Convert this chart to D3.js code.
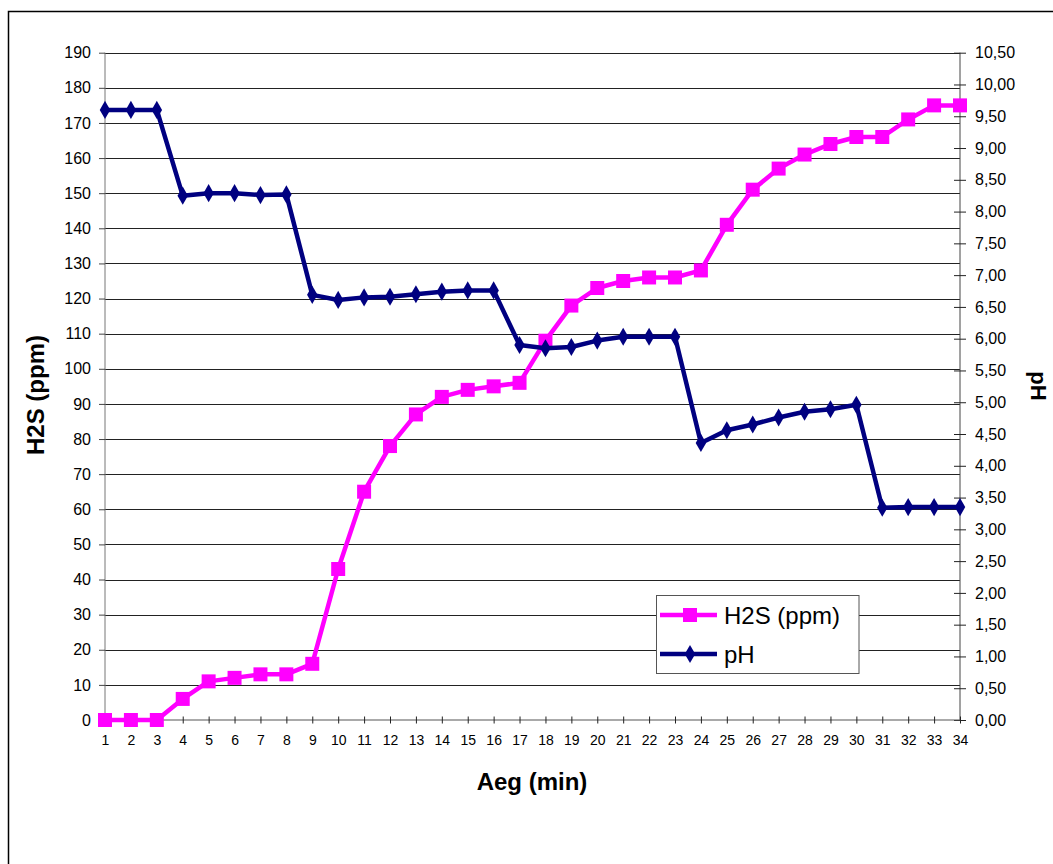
<!DOCTYPE html>
<html>
<head>
<meta charset="utf-8">
<script src="https://cdn.jsdelivr.net/npm/d3@7"></script>
<style>
  html, body { margin: 0; padding: 0; background: #fff; }
  svg { display: block; font-family: "Liberation Sans", Arial, sans-serif; }
</style>
</head>
<body>
<svg id="chart" width="1053" height="864"></svg>
<script>
const minutes = d3.range(1, 35);
const h2s = [0, 0, 0, 6, 11, 12, 13, 13, 16, 43, 65, 78, 87, 92, 94, 95, 96, 108, 118, 123,
             125, 126, 126, 128, 141, 151, 157, 161, 164, 166, 166, 171, 175, 175];
const ph = [9.60, 9.60, 9.60, 8.25, 8.29, 8.29, 8.26, 8.27, 6.69, 6.61, 6.65, 6.66, 6.70, 6.74,
            6.76, 6.76, 5.90, 5.85, 5.87, 5.97, 6.03, 6.03, 6.03, 4.36, 4.56, 4.65, 4.76, 4.85,
            4.89, 4.96, 3.34, 3.35, 3.35, 3.35];
const leftTicks = d3.range(0, 191, 10);
const rightTicks = d3.range(0, 10.51, 0.5);
const seriesNames = ["H2S (ppm)", "pH"];
const axisTitles = { x: "Aeg (min)", left: "H2S (ppm)", right: "pH" };

const svg = d3.select("#chart");
const L = 105, R = 960, T = 52.7, B = 720;
const x = d3.scaleLinear().domain([1, 34]).range([L, R]);
const yL = d3.scaleLinear().domain([0, 190]).range([B, T]);
const yR = d3.scaleLinear().domain([0, 10.5]).range([B, T]);
const magenta = "#FF00FF", navy = "#000080";

// outer frame
svg.append("rect").attr("x", 8.5).attr("y", 11.5).attr("width", 1100).attr("height", 900)
  .attr("fill", "none").attr("stroke", "#000").attr("stroke-width", 1.5);

// gridlines
svg.append("g").selectAll("line").data(leftTicks.filter(d => d > 0)).join("line")
  .attr("x1", L).attr("x2", R)
  .attr("y1", d => Math.round(yL(d)) + 0.5).attr("y2", d => Math.round(yL(d)) + 0.5)
  .attr("stroke", "#222").attr("stroke-width", 1);

// left axis
const leftAxis = d3.axisLeft(yL).tickValues(leftTicks).tickSize(6).tickPadding(8).tickFormat(d3.format("d"));
const gl = svg.append("g").attr("transform", `translate(${L},0)`).call(leftAxis);
gl.select(".domain").attr("stroke", "#777").attr("d", `M0,${B}V${T}`);
gl.selectAll(".tick line").attr("stroke", "#444");
gl.selectAll("text").attr("font-size", 16).attr("fill", "#000").attr("font-family", "Liberation Sans, Arial, sans-serif");

// right axis
const fmtComma = d => d3.format(".2f")(d).replace(".", ",");
const rightAxis = d3.axisRight(yR).tickValues(rightTicks).tickSize(6).tickPadding(9).tickFormat(fmtComma);
const gr = svg.append("g").attr("transform", `translate(${R},0)`).call(rightAxis);
gr.select(".domain").attr("stroke", "#444").attr("d", `M0,${B}V${T}`);
gr.selectAll(".tick line").attr("stroke", "#222").attr("x1", -6).attr("x2", 6);
gr.selectAll("text").attr("font-size", 16).attr("fill", "#000").attr("font-family", "Liberation Sans, Arial, sans-serif");

// bottom axis
const bottomAxis = d3.axisBottom(x).tickValues(minutes).tickSize(3.5).tickPadding(12).tickFormat(d3.format("d"));
const gb = svg.append("g").attr("transform", `translate(0,${B})`).call(bottomAxis);
gb.select(".domain").attr("stroke", "#555").attr("d", `M${L},0H${R}`);
gb.selectAll(".tick line").attr("stroke", "#222").attr("y1", -3.5).attr("y2", 3.5);
gb.selectAll("text").attr("font-size", 14).attr("fill", "#000").attr("font-family", "Liberation Sans, Arial, sans-serif");

// series
const lineH = d3.line().x((d, i) => x(minutes[i])).y(d => yL(d));
const lineP = d3.line().x((d, i) => x(minutes[i])).y(d => yR(d));
const sq = d3.symbol().type(d3.symbolSquare).size(14 * 14);
const dia = d3.symbol().type(d3.symbolDiamond).size(95);

svg.append("path").datum(h2s).attr("d", lineH).attr("fill", "none")
  .attr("stroke", magenta).attr("stroke-width", 4.5).attr("stroke-linejoin", "round");
svg.append("g").selectAll("path").data(h2s).join("path")
  .attr("d", sq).attr("fill", magenta)
  .attr("transform", (d, i) => `translate(${x(minutes[i])},${yL(d)})`);

svg.append("path").datum(ph).attr("d", lineP).attr("fill", "none")
  .attr("stroke", navy).attr("stroke-width", 4.5).attr("stroke-linejoin", "round");
svg.append("g").selectAll("path").data(ph).join("path")
  .attr("d", dia).attr("fill", navy)
  .attr("transform", (d, i) => `translate(${x(minutes[i])},${yR(d)})`);

// legend
const lg = svg.append("g");
lg.append("rect").attr("x", 656.5).attr("y", 595.5).attr("width", 202.5).attr("height", 78)
  .attr("fill", "#fff").attr("stroke", "#555").attr("stroke-width", 1);
const items = [{ name: seriesNames[0], color: magenta, sym: sq, y: 615 },
               { name: seriesNames[1], color: navy, sym: dia, y: 654 }];
items.forEach(it => {
  lg.append("line").attr("x1", 660).attr("x2", 717).attr("y1", it.y).attr("y2", it.y)
    .attr("stroke", it.color).attr("stroke-width", 4.5);
  lg.append("path").attr("d", it.sym).attr("fill", it.color).attr("transform", `translate(690,${it.y})`);
  lg.append("text").attr("x", 724).attr("y", it.y + 9).attr("font-size", 24).attr("fill", "#000")
    .text(it.name);
});

// axis titles
svg.append("text").attr("x", 532).attr("y", 790).attr("text-anchor", "middle")
  .attr("font-size", 24).attr("font-weight", "bold").text(axisTitles.x);
svg.append("text").attr("transform", "translate(44,395) rotate(-90)").attr("text-anchor", "middle")
  .attr("font-size", 24).attr("font-weight", "bold").text(axisTitles.left);
svg.append("text").attr("transform", "translate(1031,386) rotate(90)").attr("text-anchor", "middle")
  .attr("font-size", 22).attr("font-weight", "bold").text(axisTitles.right);
</script>
</body>
</html>
